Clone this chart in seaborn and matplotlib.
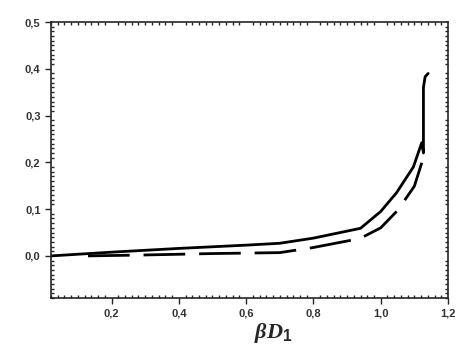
import numpy as np
import pandas as pd
import matplotlib
matplotlib.use("Agg")
import matplotlib.pyplot as plt
import seaborn as sns
from matplotlib.ticker import MultipleLocator, FuncFormatter

# data
solid_x = [0.02, 0.2, 0.4, 0.6, 0.7, 0.8, 0.94, 1.0, 1.047, 1.097, 1.122, 1.127, 1.127, 1.132, 1.141]
solid_y = [0.0, 0.008, 0.016, 0.023, 0.027, 0.038, 0.059, 0.095, 0.135, 0.19, 0.242, 0.22, 0.36, 0.383, 0.39]
dash_x = [0.13, 0.3, 0.5, 0.7, 0.8, 0.938, 1.0, 1.05, 1.1, 1.122]
dash_y = [0.0, 0.002, 0.005, 0.007, 0.018, 0.037, 0.06, 0.097, 0.149, 0.199]

df_solid = pd.DataFrame({"x": solid_x, "y": solid_y})
df_dash = pd.DataFrame({"x": dash_x, "y": dash_y})

sns.set_style("ticks")
plt.rcParams["font.family"] = ["Liberation Sans", "DejaVu Sans"]
plt.rcParams["mathtext.fontset"] = "custom"
plt.rcParams["mathtext.it"] = "Liberation Serif:italic:bold"
plt.rcParams["mathtext.rm"] = "Liberation Sans:bold"
plt.rcParams["mathtext.bf"] = "Liberation Sans:bold"

fig = plt.figure(figsize=(4.69, 3.53), dpi=100)
ax = fig.add_axes([51 / 469, 1 - 298 / 353, (448 - 51) / 469, (298 - 22) / 353])

sns.lineplot(data=df_solid, x="x", y="y", ax=ax, color="black", lw=2.0,
             sort=False, estimator=None)
sns.lineplot(data=df_dash, x="x", y="y", ax=ax, color="black", lw=2.0,
             sort=False, estimator=None, dashes=False, linestyle=(0, (15, 5)))

ax.set_xlim(0.02, 1.2)
ax.set_ylim(-0.09, 0.5)
ax.xaxis.set_major_locator(MultipleLocator(0.2))
ax.xaxis.set_minor_locator(MultipleLocator(0.02))
ax.yaxis.set_major_locator(MultipleLocator(0.1))
ax.yaxis.set_minor_locator(MultipleLocator(0.01))

comma = FuncFormatter(lambda v, p: f"{v:.1f}".replace(".", ",").replace("-0,0", "0,0"))
ax.xaxis.set_major_formatter(comma)
ax.yaxis.set_major_formatter(comma)
ax.set_xticks([0.2, 0.4, 0.6, 0.8, 1.0, 1.2])
ax.set_yticks([0.0, 0.1, 0.2, 0.3, 0.4, 0.5])

ax.tick_params(which="major", direction="out", length=4, width=1, labelsize=8)
ax.tick_params(which="minor", direction="in", length=2.5, width=1,
               top=True, right=True)
for lab in ax.get_xticklabels() + ax.get_yticklabels():
    lab.set_fontweight("bold")
    lab.set_color("#333333")

for s in ax.spines.values():
    s.set_linewidth(1.2)

ax.set_ylabel("")
ax.set_xlabel(r"$\beta D_{\mathbf{1}}$", fontsize=16)
ax.xaxis.set_label_coords(0.56, -0.085)

fig.savefig("out.png", dpi=100)
